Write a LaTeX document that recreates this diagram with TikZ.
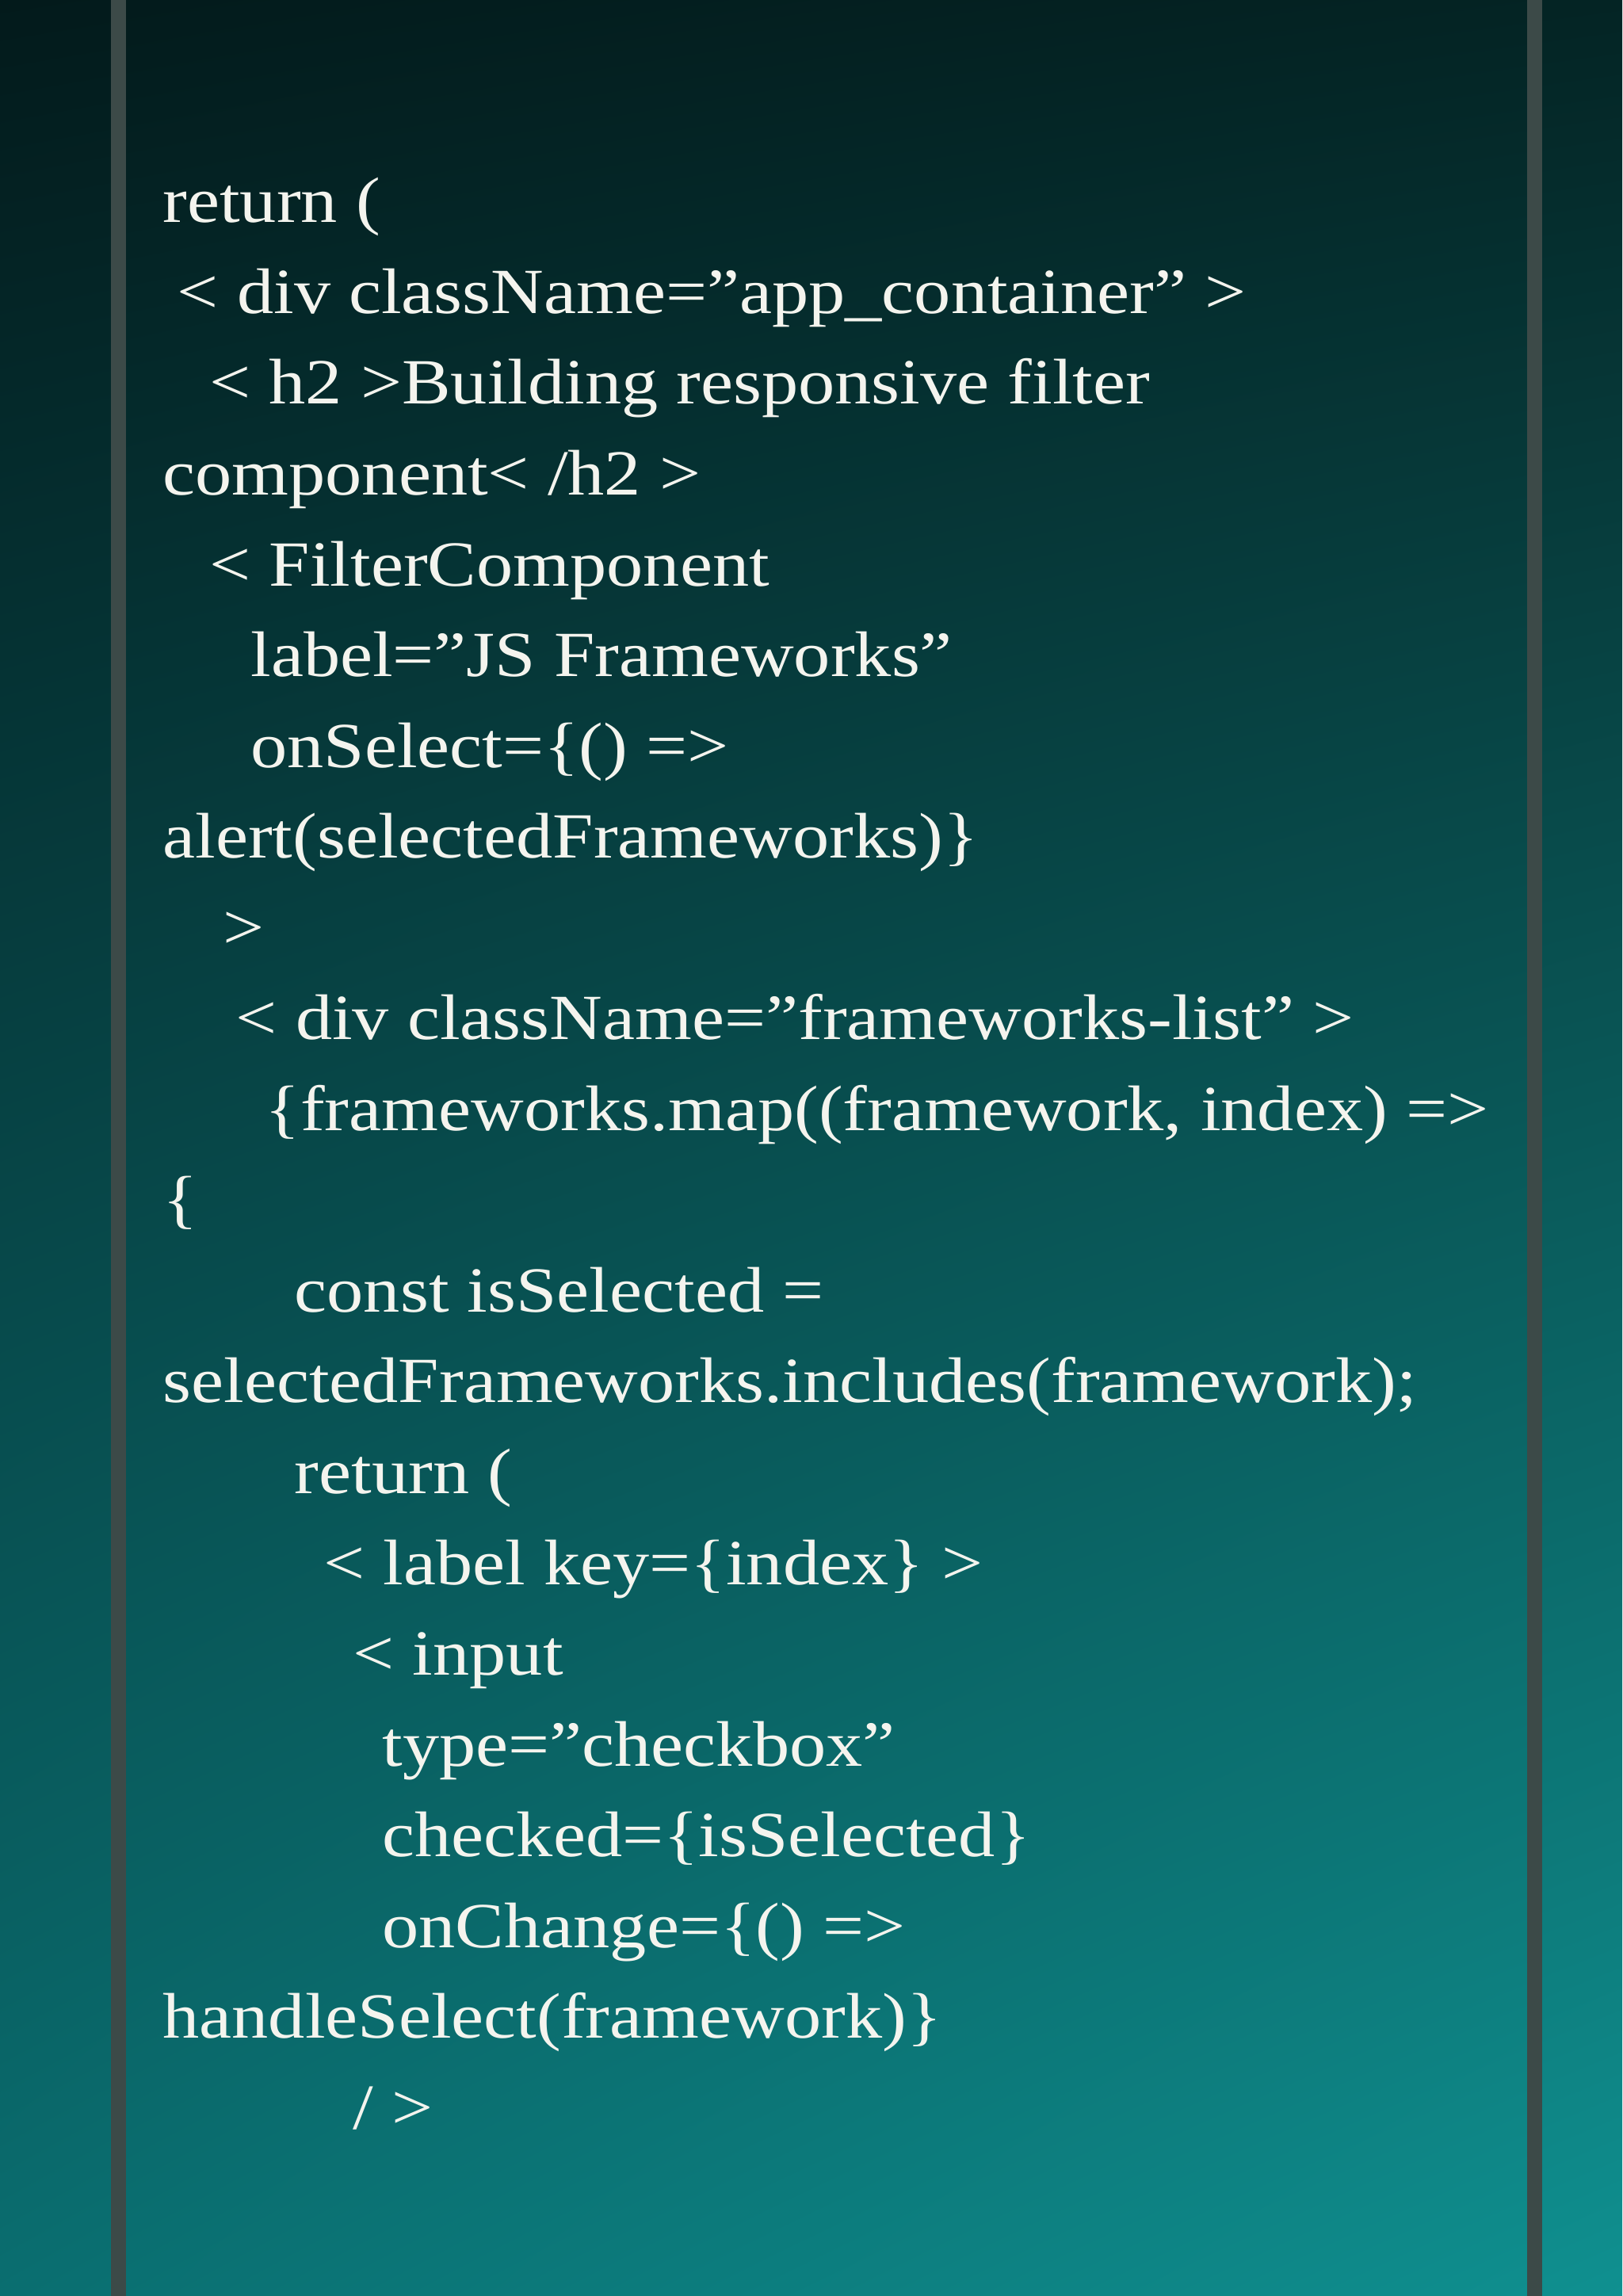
\documentclass[tikz,border=0pt]{standalone}
\usepackage{fontspec}
\usetikzlibrary{shadings}
\setmainfont{Liberation Serif}[Ligatures=ResetAll]
\definecolor{ul}{HTML}{031A1B}
\definecolor{ur}{HTML}{042424}
\definecolor{ll}{HTML}{0A6E70}
\definecolor{lr}{HTML}{0F9090}
\definecolor{bar}{HTML}{3C4A48}
\definecolor{txt}{HTML}{F4F4EE}
\newcommand{\dq}{\symbol{34}}
\tikzset{code/.style={anchor=base west,inner sep=0pt,text=txt,font=\fontsize{44}{44}\selectfont,xscale=1.136,transform shape}}
\begin{document}
\begin{tikzpicture}[x=1pt,y=-1pt]
\useasboundingbox (0,0) rectangle (1108,1568);
\shade[upper left=ul,upper right=ur,lower left=ll,lower right=lr] (0,0) rectangle (1108,1568);
\fill[bar] (76,0) rectangle (86,1568);
\fill[bar] (1043,0) rectangle (1053,1568);
\node[code] (l1) at (111,152) {return (};
\node[code] (l2) at (121,214) {< div className=\dq app\_container\dq{} >};
\node[code] (l3) at (143,276) {< h2 >Building responsive filter};
\node[code] (l4) at (111,338) {component< /h2 >};
\node[code] (l5) at (143,400) {< FilterComponent};
\node[code] (l6) at (171,462) {label=\dq JS Frameworks\dq};
\node[code] (l7) at (171,524) {onSelect=\{() =>};
\node[code] (l8) at (111,586) {alert(selectedFrameworks)\}};
\node[code] (l9) at (152,648) {>};
\node[code] (l10) at (161,710) {< div className=\dq frameworks-list\dq{} >};
\node[code] (l11) at (181,772) {\{frameworks.map((framework, index) =>};
\node[code] (l12) at (111,834) {\{};
\node[code] (l13) at (201,896) {const isSelected =};
\node[code] (l14) at (111,958) {selectedFrameworks.includes(framework);};
\node[code] (l15) at (201,1020) {return (};
\node[code] (l16) at (221,1082) {< label key=\{index\} >};
\node[code] (l17) at (241,1144) {< input};
\node[code] (l18) at (261,1206) {type=\dq checkbox\dq};
\node[code] (l19) at (261,1268) {checked=\{isSelected\}};
\node[code] (l20) at (261,1330) {onChange=\{() =>};
\node[code] (l21) at (111,1392) {handleSelect(framework)\}};
\node[code] (l22) at (241,1454) {/ >};
\end{tikzpicture}
\end{document}
